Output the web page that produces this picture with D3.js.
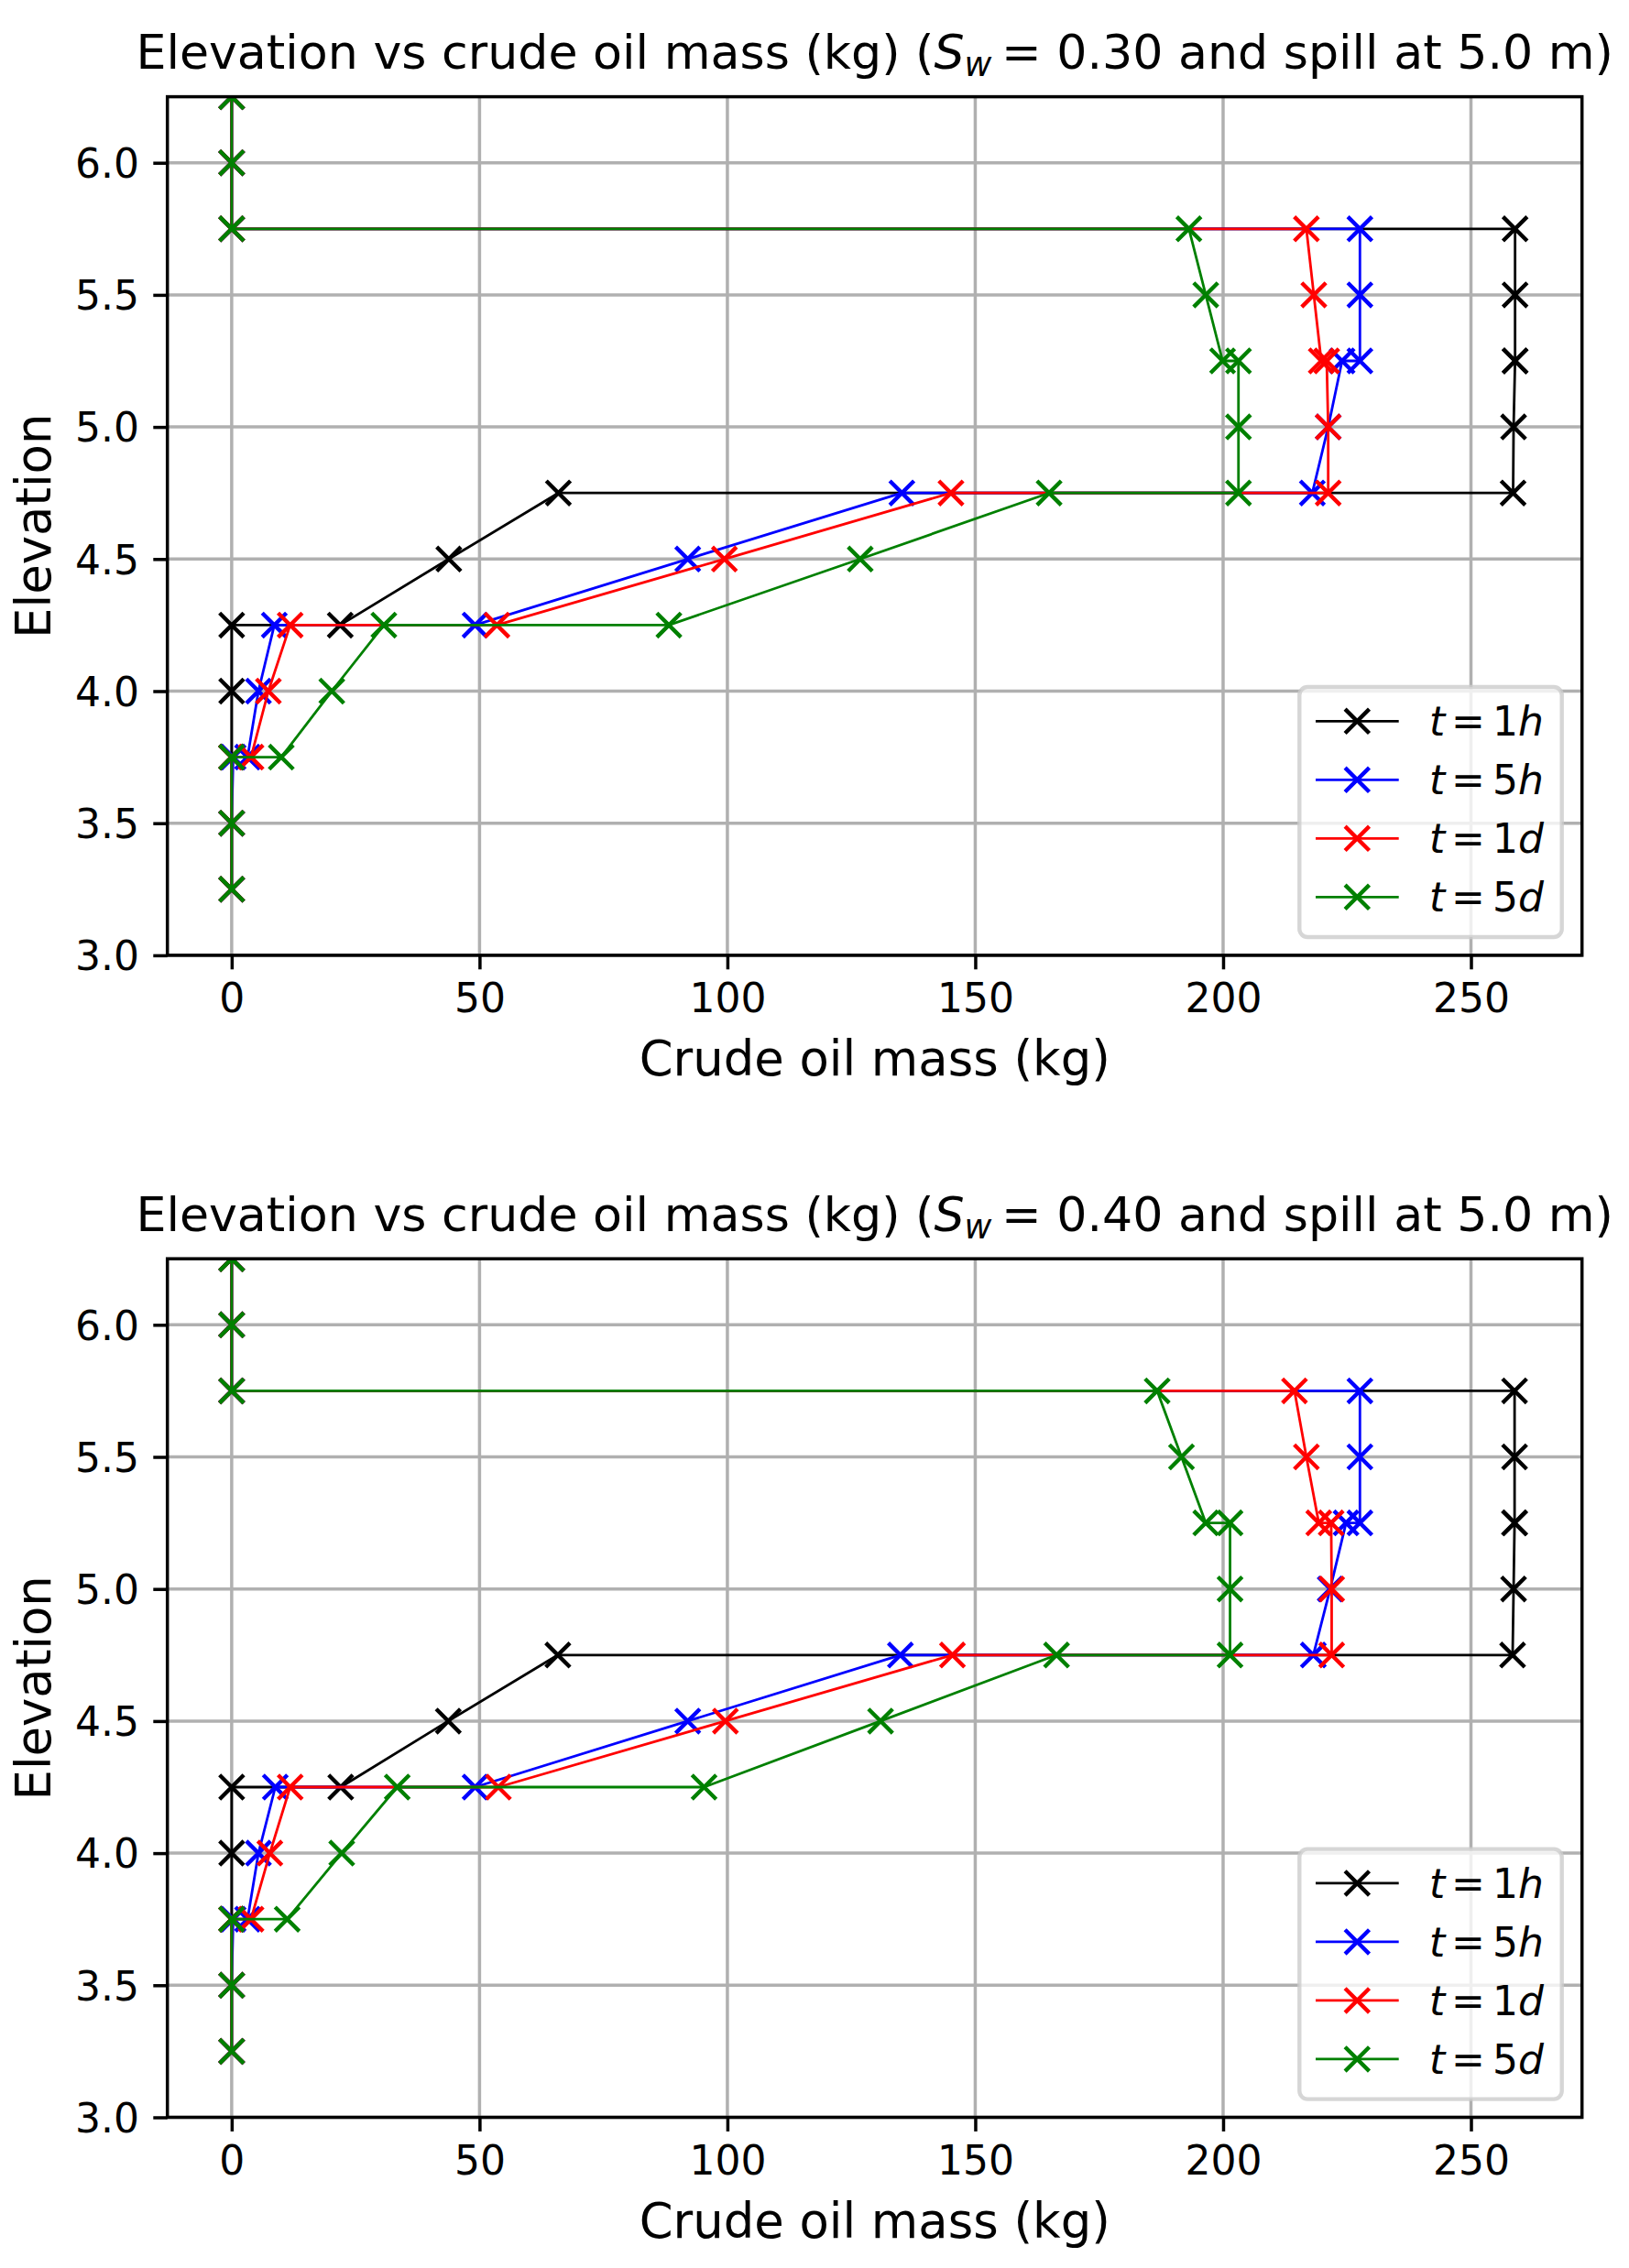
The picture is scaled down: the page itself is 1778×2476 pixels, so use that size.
<!DOCTYPE html>
<html>
<head>
<meta charset="utf-8">
<script src="https://cdn.jsdelivr.net/npm/d3@7"></script>
<style>
  body { margin: 0; background: #fff; }
  text { font-family: "DejaVu Sans", sans-serif; }
</style>
</head>
<body>
<div id="chart"></div>
<script>
// elevation of each point (m) - shared by all series, level boundaries appear twice
var elevation = [6.25, 6.0, 5.75, 5.75, 5.5, 5.25, 5.25, 5.0, 4.75, 4.75, 4.5, 4.25, 4.25, 4.0, 3.75, 3.75, 3.5, 3.25];

// crude oil mass (kg), Sw = 0.30
var sw30_1h = [0, 0, 0, 258.9, 258.9, 258.9, 258.9, 258.6, 258.5, 65.9, 43.8, 21.9, 0, 0, 0, 0, 0, 0];
var sw30_5h = [0, 0, 0, 227.6, 227.6, 227.6, 224.0, 221.2, 218.0, 135.2, 92.0, 49.1, 8.6, 5.4, 3.2, 0.3, 0, 0];
var sw30_1d = [0, 0, 0, 216.8, 218.3, 219.8, 220.9, 221.2, 221.2, 145.1, 99.4, 53.5, 11.8, 7.4, 3.9, 0, 0, 0];
var sw30_5d = [0, 0, 0, 193.1, 196.5, 199.9, 203.1, 203.1, 203.1, 164.9, 126.8, 88.2, 30.7, 20.2, 10.0, 0, 0, 0];

// crude oil mass (kg), Sw = 0.40
var sw40_1h = [0, 0, 0, 258.8, 258.8, 258.8, 258.8, 258.6, 258.4, 65.8, 43.7, 22.0, 0, 0, 0, 0, 0, 0];
var sw40_5h = [0, 0, 0, 227.6, 227.6, 227.6, 224.8, 221.6, 218.2, 134.9, 92.0, 49.1, 8.8, 5.4, 3.2, 0.3, 0, 0];
var sw40_1d = [0, 0, 0, 214.4, 216.8, 219.3, 221.8, 221.9, 221.9, 145.4, 99.6, 53.8, 11.8, 7.7, 3.9, 0, 0, 0];
var sw40_5d = [0, 0, 0, 186.7, 191.6, 196.5, 201.4, 201.4, 201.4, 166.4, 130.9, 95.3, 33.4, 22.2, 11.2, 0, 0, 0];

var timeNumber = ["1", "5", "1", "5"];
var timeUnit = ["h", "h", "d", "d"];
var seriesColors = ["black", "blue", "red", "green"];
var swLabels = ["0.30", "0.40"];

var xTicks = [0, 50, 100, 150, 200, 250];
var yTicks = [3.0, 3.5, 4.0, 4.5, 5.0, 5.5, 6.0];
var xDomain = [-12.97, 272.4];
var yDomain = [3.0, 6.25];

var W = 1778, H = 2476;
var tickFont = 44, titleFont = 52.8;

var svg = d3.select("#chart")
    .append("svg")
    .attr("width", W)
    .attr("height", H)
    .attr("xmlns", "http://www.w3.org/2000/svg");

svg.append("rect").attr("width", W).attr("height", H).attr("fill", "white");

var xMark = "M-13.2,-13.2L13.2,13.2M-13.2,13.2L13.2,-13.2";

function drawPanel(idx, offsetY, sw, seriesList) {
    var left = 182.7, right = 1726.7;
    var top = 105.6 + offsetY, bottom = 1042.9 + offsetY;

    var x = d3.scaleLinear().domain(xDomain).range([left, right]);
    var y = d3.scaleLinear().domain(yDomain).range([bottom, top]);

    var g = svg.append("g");

    // clip for the lines/markers
    var clipId = "clip" + idx;
    svg.append("clipPath").attr("id", clipId)
        .append("rect")
        .attr("x", left).attr("y", top)
        .attr("width", right - left).attr("height", bottom - top);

    // grid
    g.append("g").selectAll("line")
        .data(xTicks).enter().append("line")
        .attr("x1", d => x(d)).attr("x2", d => x(d))
        .attr("y1", top).attr("y2", bottom)
        .attr("stroke", "#b0b0b0").attr("stroke-width", 3.5);
    g.append("g").selectAll("line")
        .data(yTicks).enter().append("line")
        .attr("x1", left).attr("x2", right)
        .attr("y1", d => y(d)).attr("y2", d => y(d))
        .attr("stroke", "#b0b0b0").attr("stroke-width", 3.5);

    // series
    var plot = g.append("g").attr("clip-path", "url(#" + clipId + ")");
    var line = d3.line()
        .x(d => x(d[0]))
        .y(d => y(d[1]));

    seriesList.forEach(function(vals, i) {
        var pts = vals.map((v, k) => [v, elevation[k]]);
        plot.append("path")
            .attr("d", line(pts))
            .attr("fill", "none")
            .attr("stroke", seriesColors[i])
            .attr("stroke-width", 2.8)
            .attr("stroke-linejoin", "round");
        plot.append("g").selectAll("path")
            .data(pts).enter().append("path")
            .attr("d", xMark)
            .attr("transform", d => "translate(" + x(d[0]) + "," + y(d[1]) + ")")
            .attr("fill", "none")
            .attr("stroke", seriesColors[i])
            .attr("stroke-width", 4.4);
    });

    // axes
    var xAxis = g.append("g")
        .attr("transform", "translate(0," + bottom + ")")
        .call(d3.axisBottom(x).tickValues(xTicks).tickSize(15.4).tickPadding(15.4).tickFormat(d3.format("d")));
    var yAxis = g.append("g")
        .attr("transform", "translate(" + left + ",0)")
        .call(d3.axisLeft(y).tickValues(yTicks).tickSize(15.4).tickPadding(15.4).tickFormat(d3.format(".1f")));

    [xAxis, yAxis].forEach(function(a) {
        a.select(".domain").remove();
        a.selectAll(".tick line").attr("stroke", "black").attr("stroke-width", 3.5);
        a.selectAll(".tick text")
            .attr("fill", "black")
            .style("font-family", "DejaVu Sans")
            .style("font-size", tickFont + "px");
    });
    yAxis.selectAll(".tick text").attr("dy", "0.36em");

    // spines
    g.append("rect")
        .attr("x", left).attr("y", top)
        .attr("width", right - left).attr("height", bottom - top)
        .attr("fill", "none").attr("stroke", "black").attr("stroke-width", 3.5);

    // title
    var title = g.append("text")
        .attr("x", (left + right) / 2)
        .attr("y", 75 + offsetY)
        .attr("text-anchor", "middle")
        .style("font-size", "52.2px");
    title.append("tspan").text("Elevation vs crude oil mass (kg) (");
    title.append("tspan").attr("font-style", "italic").text("S");
    title.append("tspan").attr("font-style", "italic")
        .attr("font-size", "36.5px").attr("dy", 8).text("w");
    title.append("tspan").attr("dy", -8).text("\u2009= " + sw + " and spill at 5.0 m)");

    // axis labels
    g.append("text")
        .attr("x", (left + right) / 2)
        .attr("y", 1174 + offsetY)
        .attr("text-anchor", "middle")
        .style("font-size", titleFont + "px")
        .text("Crude oil mass (kg)");
    g.append("text")
        .attr("transform", "translate(55," + ((top + bottom) / 2) + ") rotate(-90)")
        .attr("text-anchor", "middle")
        .style("font-size", titleFont + "px")
        .text("Elevation");

    // legend
    var lg = g.append("g");
    var lx = 1418.3, ly = 750 + offsetY;
    lg.append("rect")
        .attr("x", lx).attr("y", ly)
        .attr("width", 1704.7 - lx).attr("height", 273)
        .attr("rx", 8.8).attr("ry", 8.8)
        .attr("fill", "rgba(255,255,255,0.8)")
        .attr("stroke", "rgba(204,204,204,0.8)")
        .attr("stroke-width", 4.4);
    seriesColors.forEach(function(c, i) {
        var ry = ly + 37.3 + i * 64;
        lg.append("line")
            .attr("x1", 1436).attr("x2", 1526.7)
            .attr("y1", ry).attr("y2", ry)
            .attr("stroke", c).attr("stroke-width", 2.8);
        lg.append("path")
            .attr("d", xMark)
            .attr("transform", "translate(1481.3," + ry + ")")
            .attr("fill", "none").attr("stroke", c).attr("stroke-width", 4.4);
        var t = lg.append("text")
            .attr("y", ry + 16)
            .style("font-size", tickFont + "px");
        t.append("tspan").attr("x", 1560).attr("font-style", "italic").text("t");
        t.append("tspan").attr("x", 1584).text("=");
        t.append("tspan").attr("x", 1629).text(timeNumber[i]);
        t.append("tspan").attr("x", 1657).attr("font-style", "italic").text(timeUnit[i]);
    });
}

drawPanel(0, 0, swLabels[0], [sw30_1h, sw30_5h, sw30_1d, sw30_5d]);
drawPanel(1, 1268.6, swLabels[1], [sw40_1h, sw40_5h, sw40_1d, sw40_5d]);
</script>
</body>
</html>
